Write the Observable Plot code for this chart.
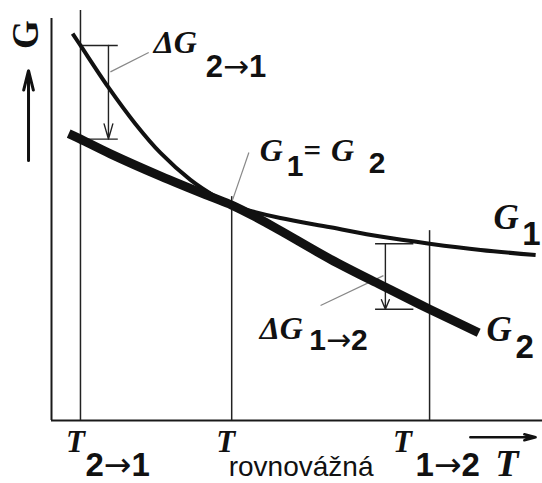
<!DOCTYPE html>
<html>
<head>
<meta charset="utf-8">
<script src="https://cdn.jsdelivr.net/npm/d3@7"></script>
<script src="https://cdn.jsdelivr.net/npm/@observablehq/plot@0.6"></script>
<style>
  html, body { margin: 0; padding: 0; background: #fff; }
  #chart svg { display: block; }
</style>
</head>
<body>
<div id="chart"></div>
<script>
// Gibbs energy G of two phases as a function of temperature T (schematic units)
const tPhase1 = [4.3, 5.9, 11.6, 17.1, 22.2, 28.3, 33.0, 36.7, 41.5, 46.6, 56.8, 67.0, 77.0, 87.4, 98.6];
const gPhase1 = [92.1, 89.3, 79.3, 70.6, 63.7, 57.3, 53.6, 51.3, 49.6, 48.2, 46.0, 43.8, 42.1, 40.6, 39.4];
const tPhase2 = [3.5, 5.9, 12.0, 22.2, 32.4, 36.7, 41.5, 46.6, 56.8, 67.0, 77.0, 87.0];
const gPhase2 = [68.3, 67.0, 63.5, 58.2, 53.3, 51.3, 48.5, 45.2, 38.4, 32.3, 26.5, 20.9];

// characteristic temperatures: transformation 2→1, equilibrium, transformation 1→2
const tMarks = [5.9, 36.7, 77.0];
const tSubscripts = ["2→1", "rovnovážná", "1→2"];

const phase1 = tPhase1.map((t, i) => ({t, g: gPhase1[i]}));
const phase2 = tPhase2.map((t, i) => ({t, g: gPhase2[i]}));
const gAt = (ts, gs, t) => gs[ts.indexOf(t)];
const [T21, Trov, T12] = tMarks;

// driving forces at the two transformation temperatures
const dG21 = {top: gAt(tPhase1, gPhase1, T21), bottom: gAt(tPhase2, gPhase2, T21)};
const dG12 = {top: gAt(tPhase1, gPhase1, T12), bottom: gAt(tPhase2, gPhase2, T12)};

const serif = "'Liberation Serif', 'Times New Roman', serif";
const sans = "'Liberation Sans', Arial, sans-serif";
const ink = "#111";

const sym = (txt, x, y, size, label = "symbol", style = "italic") =>
  Plot.text([txt], {x, y, text: d => d, fontFamily: serif, fontStyle: style, fontWeight: "bold",
    fontSize: size, textAnchor: "start", lineAnchor: "bottom", fill: ink, ariaLabel: label});
const sub = (txt, x, y, size) =>
  Plot.text([txt], {x, y, text: d => d, fontFamily: sans, fontWeight: "bold",
    fontSize: size, textAnchor: "start", lineAnchor: "bottom", fill: ink});

// temperature labels under the axis
const tDx = [-5, -6, -27];
const subDx = [5, -3, -14];
const tickLabels = tMarks.flatMap((t, i) => [
  Plot.text(["T"], {x: t, y: -7.6, dx: tDx[i], text: d => d, fontFamily: serif, fontStyle: "italic",
    fontWeight: "bold", fontSize: 31, textAnchor: "middle", lineAnchor: "bottom", fill: ink}),
  Plot.text([tSubscripts[i]], {x: t, y: -13.2, dx: subDx[i], text: d => d,
    fontFamily: sans, fontWeight: i === 1 ? "normal" : "bold", fontSize: i === 1 ? 28 : 33,
    textAnchor: "start", lineAnchor: "bottom", fill: ink})
]);

const chart = Plot.plot({
  width: 542,
  height: 483,
  marginLeft: 51,
  marginRight: 0,
  marginTop: 0,
  marginBottom: 63,
  x: {domain: [0, 100], axis: null},
  y: {domain: [0, 100], axis: null},
  style: {background: "#fff"},
  marks: [
    // axis frame
    Plot.ruleX([0], {y1: 0, y2: 95.7, stroke: "#1a1a1a", strokeWidth: 2}),
    Plot.ruleY([0], {x1: 0, x2: 100, stroke: "#1a1a1a", strokeWidth: 2}),

    // vertical lines at the characteristic temperatures
    Plot.ruleX([{t: T21, top: 97.6}, {t: Trov, top: 53.3}, {t: T12, top: 45.2}],
      {x: "t", y1: 0, y2: "top", stroke: "#222", strokeWidth: 1.5}),

    // ΔG 2→1 bracket
    Plot.ruleY([dG21.top, dG21.bottom], {y: d => d, x1: T21, x2: 13.6, stroke: "#222", strokeWidth: 1.4}),
    Plot.arrow([dG21], {x1: 11.6, x2: 11.6, y1: "top", y2: "bottom", stroke: "#222", strokeWidth: 1.4,
      headLength: 17, headAngle: 32}),

    // ΔG 1→2 bracket
    Plot.ruleY([dG12.top, dG12.bottom], {y: d => d, x1: 66.0, x2: 73.8, stroke: "#222", strokeWidth: 1.4}),
    Plot.arrow([dG12], {x1: 68.0, x2: 68.0, y1: "top", y2: "bottom", stroke: "#222", strokeWidth: 1.4,
      headLength: 11, headAngle: 45}),

    // leader lines to the labels
    Plot.link([
      {x1: 12.0, y1: 83.0, x2: 19.8, y2: 87.6},
      {x1: 36.9, y1: 52.6, x2: 40.2, y2: 63.8},
      {x1: 67.6, y1: 34.5, x2: 54.8, y2: 27.4}
    ], {x1: "x1", y1: "y1", x2: "x2", y2: "y2", stroke: "#888", strokeWidth: 1.2}),

    // Gibbs energy curves
    Plot.line(phase1, {x: "t", y: "g", curve: "catmull-rom", stroke: ink, strokeWidth: 4,
      strokeLinecap: "butt"}),
    Plot.line(phase2, {x: "t", y: "g", curve: "catmull-rom", stroke: ink, strokeWidth: 9,
      strokeLinecap: "butt"}),

    // annotations
    sym("ΔG", 20.8, 87.4, 32),
    sub("2→1", 31.4, 81.7, 31),
    sym("G", 42.4, 61.7, 32),
    sub("1", 47.9, 58.3, 30),
    sym("=", 51.3, 61.9, 31, "equals", "normal"),
    sym("G", 56.9, 61.7, 32),
    sub("2", 64.6, 59.0, 30),
    sym("G", 90.0, 45.5, 35, "symbol wide"),
    sub("1", 95.9, 41.7, 33),
    sym("G", 88.6, 19.0, 35, "symbol wide"),
    sub("2", 94.5, 14.8, 33),
    sym("ΔG", 42.4, 19.5, 32),
    sub("1→2", 52.5, 16.7, 30),

    ...tickLabels,

    // axis titles with arrows
    Plot.text(["T"], {x: 90.4, y: -13.2, text: d => d, fontFamily: serif, fontStyle: "italic",
      fontWeight: "bold", fontSize: 38, textAnchor: "start", lineAnchor: "bottom", fill: ink}),
    Plot.arrow([{}], {x1: 85.3, x2: 98.6, y1: -4.0, y2: -4.0, stroke: ink, strokeWidth: 2.5,
      headLength: 7, headAngle: 30}),
    Plot.text(["G"], {x: -2.65, y: 91.9, text: d => d, rotate: -90, fontFamily: serif,
      fontWeight: "bold", fontSize: 37, textAnchor: "middle", lineAnchor: "bottom", fill: ink,
      ariaLabel: "axis symbol"}),
    Plot.arrow([{}], {x1: -4.68, x2: -4.68, y1: 61.9, y2: 83.3, stroke: ink, strokeWidth: 3,
      headLength: 10, headAngle: 28})
  ]
});

// the italic symbols of this figure are set wider than the stock serif face
const widen = {"symbol": 1.3, "symbol wide": 1.12, "equals": 1.45, "axis symbol": 0.62};
for (const [label, sx] of Object.entries(widen)) {
  chart.querySelectorAll(`g[aria-label="${label}"] text`).forEach(el => {
    const tr = el.getAttribute("transform") || "";
    const x = el.getAttribute("x");
    const numeric = x != null && !/em$/.test(x);
    if (numeric) el.removeAttribute("x");
    el.setAttribute("transform", `${tr}${numeric ? ` translate(${x},0)` : ""} scale(${sx},1)`);
  });
}

// set the arrows inside the subscripts in a face with a long, thin arrow
const svgNS = "http://www.w3.org/2000/svg";
chart.querySelectorAll("text").forEach(el => {
  const s = el.textContent;
  if (!s.includes("→")) return;
  el.textContent = "";
  for (const part of s.split(/(→)/)) {
    if (!part) continue;
    const ts = document.createElementNS(svgNS, "tspan");
    ts.textContent = part;
    if (part === "→") {
      ts.setAttribute("font-family", "'DejaVu Sans', sans-serif");
      ts.setAttribute("font-weight", "normal");
    }
    el.appendChild(ts);
  }
});

document.getElementById("chart").appendChild(chart);
</script>
</body>
</html>
